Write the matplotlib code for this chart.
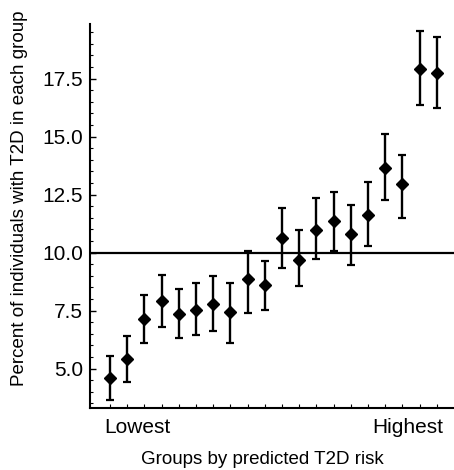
import matplotlib
matplotlib.use("Agg")
import matplotlib.pyplot as plt
from matplotlib.ticker import MultipleLocator

# values (percent with T2D per risk group, with CI bounds)
groups = list(range(1, 21))
pct = [4.58, 5.43, 7.13, 7.90, 7.37, 7.51, 7.80, 7.44, 8.84, 8.59,
       10.63, 9.67, 10.96, 11.36, 10.78, 11.61, 13.66, 12.94, 17.90, 17.75]
ci_low = [3.63, 4.43, 6.08, 6.80, 6.32, 6.44, 6.61, 6.12, 7.40, 7.54,
          9.34, 8.55, 9.74, 10.06, 9.45, 10.27, 12.25, 11.50, 16.35, 16.21]
ci_high = [5.55, 6.41, 8.16, 9.02, 8.45, 8.69, 8.98, 8.67, 10.07, 9.63,
           11.93, 10.96, 12.33, 12.59, 12.07, 13.05, 15.13, 14.22, 19.54, 19.27]
baseline = 10.0
y_ticks = [5.0, 7.5, 10.0, 12.5, 15.0, 17.5]
end_labels = ["Lowest", "Highest"]

plt.rcParams['font.family'] = ['Liberation Sans', 'DejaVu Sans']

fig = plt.figure(figsize=(4.54, 4.70), dpi=100)
ax = fig.add_axes([90 / 454, 1 - 408 / 470, 1 - 90 / 454, (408 - 24) / 470])

# asymmetric error bars from the CI bounds
err = [[p - lo for p, lo in zip(pct, ci_low)], [hi - p for p, hi in zip(pct, ci_high)]]
ax.errorbar(groups, pct, yerr=err, fmt='D', color='black', ms=6.3,
            elinewidth=1.7, capsize=3, capthick=1.6, zorder=3)
ax.axhline(baseline, color='black', lw=1.6, zorder=2)

ax.set_xlim(-0.16, 21.0)
ax.set_ylim(3.3, 19.85)

for s in ['top', 'right']:
    ax.spines[s].set_visible(False)
for s in ['left', 'bottom']:
    ax.spines[s].set_linewidth(1.5)

ax.set_yticks(y_ticks, labels=[f"{v:.1f}" for v in y_ticks])
ax.yaxis.set_minor_locator(MultipleLocator(0.5))
ax.tick_params(axis='y', which='major', direction='in', length=4, width=1, labelsize=15, pad=5)
ax.tick_params(axis='y', which='minor', direction='in', length=2, width=0.8)

ax.set_xticks(groups, minor=True)
ax.set_xticks([2.6, 18.3], labels=end_labels)
ax.tick_params(axis='x', which='major', length=0, labelsize=15, pad=7)
ax.tick_params(axis='x', which='minor', direction='in', length=3, width=0.8)

ax.set_xlabel("Groups by predicted T2D risk", fontsize=13.5)
ax.set_ylabel("Percent of individuals with T2D in each group", fontsize=13.5)
ax.xaxis.set_label_coords(0.473, -0.113)
ax.yaxis.set_label_coords(-0.17, 0.547)

fig.savefig("out.png", dpi=100)
